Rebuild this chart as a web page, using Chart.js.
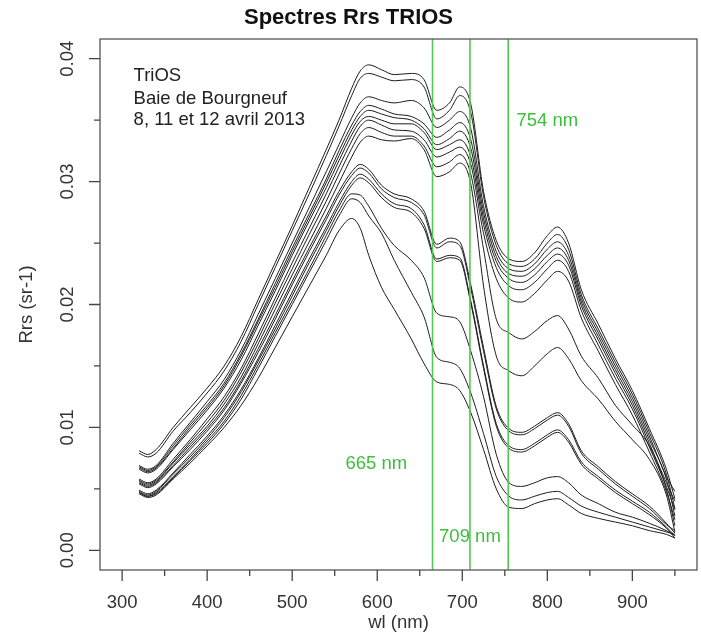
<!DOCTYPE html>
<html>
<head>
<meta charset="utf-8">
<script src="https://cdn.jsdelivr.net/npm/chart.js@4.4.1/dist/chart.umd.min.js"></script>
<style>body{margin:0;background:#fff}</style>
</head>
<body>
<canvas id="c" width="701" height="642"></canvas>
<script>
// wavelengths (nm)
var wl = [320,330,340,360,380,400,420,440,460,480,500,520,540,555,570,580,590,605,620,640,655,670,685,697,710,725,740,755,770,785,800,812,825,840,860,880,900,920,940,950];

// Rrs spectra (sr-1)
var t1 = [.0081,.0078,.0082,.0100,.0116,.0132,.0150,.0174,.0204,.0234,.0264,.0295,.0326,.0350,.0376,.0390,.0395,.0391,.0387,.0388,.0383,.0358,.0364,.0377,.0363,.0292,.0252,.0237,.0235,.0242,.0256,.0263,.0250,.0212,.0184,.0156,.0130,.0099,.0066,.0042];
var t2 = [.0079,.0076,.0079,.0097,.0112,.0128,.0146,.0170,.0200,.0230,.0260,.0290,.0321,.0345,.0370,.0384,.0388,.0385,.0382,.0383,.0377,.0351,.0358,.0370,.0356,.0288,.0248,.0233,.0231,.0237,.0250,.0257,.0245,.0208,.0180,.0153,.0127,.0096,.0062,.0034];
var t3 = [.0069,.0066,.0069,.0087,.0104,.0121,.0139,.0163,.0192,.0221,.0250,.0279,.0308,.0330,.0352,.0364,.0369,.0366,.0364,.0366,.0360,.0344,.0350,.0357,.0343,.0280,.0243,.0229,.0227,.0233,.0245,.0251,.0240,.0205,.0177,.0150,.0124,.0093,.0060,.0048];
var t4 = [.0068,.0065,.0068,.0085,.0102,.0118,.0136,.0160,.0188,.0217,.0246,.0274,.0302,.0325,.0346,.0357,.0362,.0359,.0355,.0353,.0347,.0336,.0342,.0348,.0334,.0275,.0239,.0225,.0223,.0229,.0240,.0246,.0236,.0202,.0174,.0147,.0121,.0090,.0058,.0028];
var t5 = [.0067,.0064,.0067,.0083,.0100,.0116,.0134,.0158,.0186,.0214,.0243,.0271,.0299,.0321,.0342,.0353,.0358,.0355,.0352,.0350,.0343,.0330,.0335,.0341,.0327,.0270,.0235,.0221,.0218,.0224,.0235,.0241,.0232,.0199,.0171,.0144,.0118,.0087,.0055,.0040];
var t6 = [.0066,.0063,.0066,.0082,.0098,.0114,.0132,.0155,.0183,.0211,.0240,.0268,.0295,.0317,.0338,.0349,.0353,.0350,.0347,.0347,.0340,.0326,.0330,.0334,.0320,.0265,.0230,.0215,.0212,.0218,.0229,.0236,.0227,.0195,.0167,.0140,.0115,.0084,.0052,.0033];
var t7 = [.0058,.0055,.0058,.0074,.0090,.0107,.0125,.0148,.0176,.0205,.0234,.0262,.0290,.0312,.0333,.0345,.0350,.0346,.0342,.0341,.0334,.0320,.0324,.0328,.0314,.0258,.0221,.0205,.0202,.0209,.0220,.0227,.0219,.0189,.0162,.0135,.0110,.0080,.0048,.0025];
var t8 = [.0057,.0054,.0057,.0072,.0088,.0104,.0122,.0145,.0172,.0201,.0229,.0257,.0284,.0306,.0327,.0339,.0344,.0340,.0337,.0337,.0329,.0312,.0316,.0322,.0306,.0245,.0188,.0177,.0172,.0178,.0187,.0191,.0180,.0158,.0140,.0118,.0102,.0085,.0050,.0020];
var t9 = [.0056,.0053,.0056,.0071,.0086,.0101,.0119,.0141,.0168,.0196,.0224,.0251,.0278,.0299,.0320,.0332,.0337,.0334,.0333,.0335,.0326,.0304,.0308,.0315,.0298,.0215,.0158,.0146,.0142,.0150,.0160,.0165,.0156,.0138,.0123,.0105,.0090,.0074,.0045,.0015];
var m1 = [.0055,.0052,.0055,.0069,.0084,.0099,.0116,.0138,.0164,.0191,.0219,.0246,.0272,.0292,.0308,.0314,.0310,.0297,.0290,.0286,.0276,.0249,.0254,.0251,.0216,.0165,.0117,.0099,.0096,.0101,.0108,.0112,.0103,.0081,.0068,.0056,.0046,.0036,.0022,.0014];
var m2 = [.0054,.0051,.0054,.0068,.0082,.0097,.0114,.0136,.0161,.0188,.0216,.0243,.0269,.0289,.0305,.0311,.0307,.0294,.0287,.0283,.0273,.0246,.0251,.0248,.0213,.0162,.0115,.0097,.0094,.0099,.0106,.0110,.0101,.0079,.0066,.0054,.0044,.0034,.0021,.0016];
var m3 = [.0049,.0046,.0049,.0063,.0078,.0093,.0110,.0131,.0156,.0183,.0210,.0237,.0263,.0283,.0300,.0306,.0302,.0290,.0282,.0278,.0265,.0237,.0240,.0238,.0203,.0150,.0103,.0085,.0082,.0087,.0094,.0098,.0090,.0072,.0060,.0049,.0040,.0031,.0019,.0012];
var m4 = [.0048,.0045,.0048,.0062,.0076,.0091,.0108,.0129,.0154,.0180,.0207,.0234,.0260,.0280,.0297,.0303,.0299,.0287,.0279,.0275,.0262,.0235,.0238,.0236,.0201,.0148,.0101,.0083,.0080,.0085,.0092,.0096,.0088,.0070,.0058,.0047,.0038,.0029,.0018,.0010];
var l1 = [.0047,.0044,.0047,.0060,.0074,.0089,.0105,.0126,.0151,.0177,.0203,.0229,.0256,.0276,.0290,.0289,.0280,.0262,.0248,.0236,.0222,.0193,.0190,.0186,.0162,.0125,.0078,.0055,.0052,.0055,.0059,.0060,.0055,.0045,.0038,.0031,.0027,.0022,.0016,.0012];
var l2 = [.0047,.0044,.0046,.0059,.0073,.0087,.0103,.0123,.0148,.0174,.0200,.0226,.0252,.0272,.0286,.0283,.0272,.0258,.0236,.0210,.0190,.0157,.0153,.0148,.0128,.0095,.0060,.0044,.0041,.0044,.0047,.0048,.0043,.0036,.0031,.0027,.0023,.0019,.0015,.0013];
var l3 = [.0046,.0043,.0045,.0058,.0071,.0085,.0100,.0118,.0140,.0165,.0190,.0215,.0240,.0260,.0270,.0262,.0240,.0214,.0196,.0172,.0152,.0137,.0135,.0130,.0112,.0082,.0050,.0035,.0034,.0038,.0041,.0042,.0037,.0030,.0026,.0023,.0020,.0016,.0013,.0010];
var spectra = [t1, t2, t3, t4, t5, t6, t7, t8, t9, m1, m2, m3, m4, l1, l2, l3];

// axes
var xTicks = [300, 400, 500, 600, 700, 800, 900];
var xMinor = [350, 450, 550, 650, 750, 850, 950];
var yTicks = [0, 0.01, 0.02, 0.03, 0.04];
var yMinor = [0.005, 0.015, 0.025, 0.035];

// green reference wavelengths and their labels
var refWl = [665, 709, 754];
var refText = ['665 nm', '709 nm', '754 nm'];
var noteLines = ['TriOS', 'Baie de Bourgneuf', '8, 11 et 12 avril 2013'];

var FONT = "'Liberation Sans', Arial, sans-serif";

var datasets = spectra.map(function (s) {
    return {
        data: wl.map(function (w, i) { return {x: w, y: s[i]}; }),
        borderColor: '#1c1c1c',
        borderWidth: 1,
        pointRadius: 0,
        cubicInterpolationMode: 'monotone',
        fill: false
    };
});

var rPlot = {
    id: 'rPlot',
    afterDatasetsDraw: function (chart) {
        var ctx = chart.ctx, a = chart.chartArea, x = chart.scales.x;
        ctx.save();
        ctx.strokeStyle = '#52c952';
        ctx.lineWidth = 1.6;
        refWl.forEach(function (v) {
            var px = x.getPixelForValue(v);
            ctx.beginPath();
            ctx.moveTo(px, a.top);
            ctx.lineTo(px, a.bottom);
            ctx.stroke();
        });
        ctx.restore();
    },
    afterDraw: function (chart) {
        var ctx = chart.ctx, a = chart.chartArea, x = chart.scales.x, y = chart.scales.y;
        ctx.save();
        // box
        ctx.strokeStyle = '#555';
        ctx.lineWidth = 1.3;
        ctx.strokeRect(a.left, a.top, a.right - a.left, a.bottom - a.top);
        // tick marks
        ctx.strokeStyle = '#444';
        ctx.beginPath();
        xTicks.forEach(function (v) {
            var px = x.getPixelForValue(v);
            ctx.moveTo(px, a.bottom); ctx.lineTo(px, a.bottom + 11);
        });
        xMinor.forEach(function (v) {
            var px = x.getPixelForValue(v);
            ctx.moveTo(px, a.bottom); ctx.lineTo(px, a.bottom + 6);
        });
        yTicks.forEach(function (v) {
            var py = y.getPixelForValue(v);
            ctx.moveTo(a.left, py); ctx.lineTo(a.left - 11, py);
        });
        yMinor.forEach(function (v) {
            var py = y.getPixelForValue(v);
            ctx.moveTo(a.left, py); ctx.lineTo(a.left - 6, py);
        });
        ctx.stroke();
        // rotated y tick labels
        ctx.fillStyle = '#333';
        ctx.font = '18.5px ' + FONT;
        ctx.textAlign = 'center';
        ctx.textBaseline = 'middle';
        yTicks.forEach(function (v) {
            ctx.save();
            ctx.translate(a.left - 32, y.getPixelForValue(v));
            ctx.rotate(-Math.PI / 2);
            ctx.fillText(v.toFixed(2), 0, 0);
            ctx.restore();
        });
        // notes in the top-left corner
        ctx.textAlign = 'left';
        ctx.fillStyle = '#222';
        var noteY = [0.0386, 0.0367, 0.0350];
        noteLines.forEach(function (t, i) {
            ctx.fillText(t, x.getPixelForValue(313.5), y.getPixelForValue(noteY[i]));
        });
        // green labels
        ctx.textAlign = 'center';
        ctx.fillStyle = '#3cbf3c';
        var labX = [599, 709, 800], labY = [0.0070, 0.0011, 0.0349];
        refText.forEach(function (t, i) {
            ctx.fillText(t, x.getPixelForValue(labX[i]), y.getPixelForValue(labY[i]));
        });
        ctx.restore();
    }
};

new Chart(document.getElementById('c'), {
    type: 'line',
    data: {datasets: datasets},
    options: {
        responsive: false,
        animation: false,
        devicePixelRatio: 1,
        layout: {padding: {left: 0, right: 4, top: 0, bottom: 0}},
        plugins: {
            legend: {display: false},
            tooltip: {enabled: false},
            title: {
                display: true,
                text: 'Spectres Rrs TRIOS',
                color: '#111',
                font: {family: FONT, size: 22, weight: 'bold'},
                padding: {top: 5, bottom: 7.6}
            }
        },
        scales: {
            x: {
                type: 'linear',
                min: 274,
                max: 976,
                grid: {display: false, drawTicks: false},
                border: {display: false},
                afterBuildTicks: function (s) { s.ticks = xTicks.map(function (v) { return {value: v}; }); },
                afterFit: function (s) { s.height = 72; },
                ticks: {padding: 22, color: '#333', maxRotation: 0, autoSkip: false, font: {family: FONT, size: 18.5}},
                title: {display: true, text: 'wl (nm)', color: '#333', font: {family: FONT, size: 18.5}, padding: {top: 0, bottom: 8}}
            },
            y: {
                type: 'linear',
                min: -0.0016,
                max: 0.0416,
                grid: {display: false, drawTicks: false},
                border: {display: false},
                ticks: {display: false},
                afterFit: function (s) { s.width = 100; },
                title: {display: true, text: 'Rrs (sr-1)', color: '#333', font: {family: FONT, size: 18.5}, padding: {top: 15.6, bottom: 0}}
            }
        }
    },
    plugins: [rPlot]
});
</script>
</body>
</html>
